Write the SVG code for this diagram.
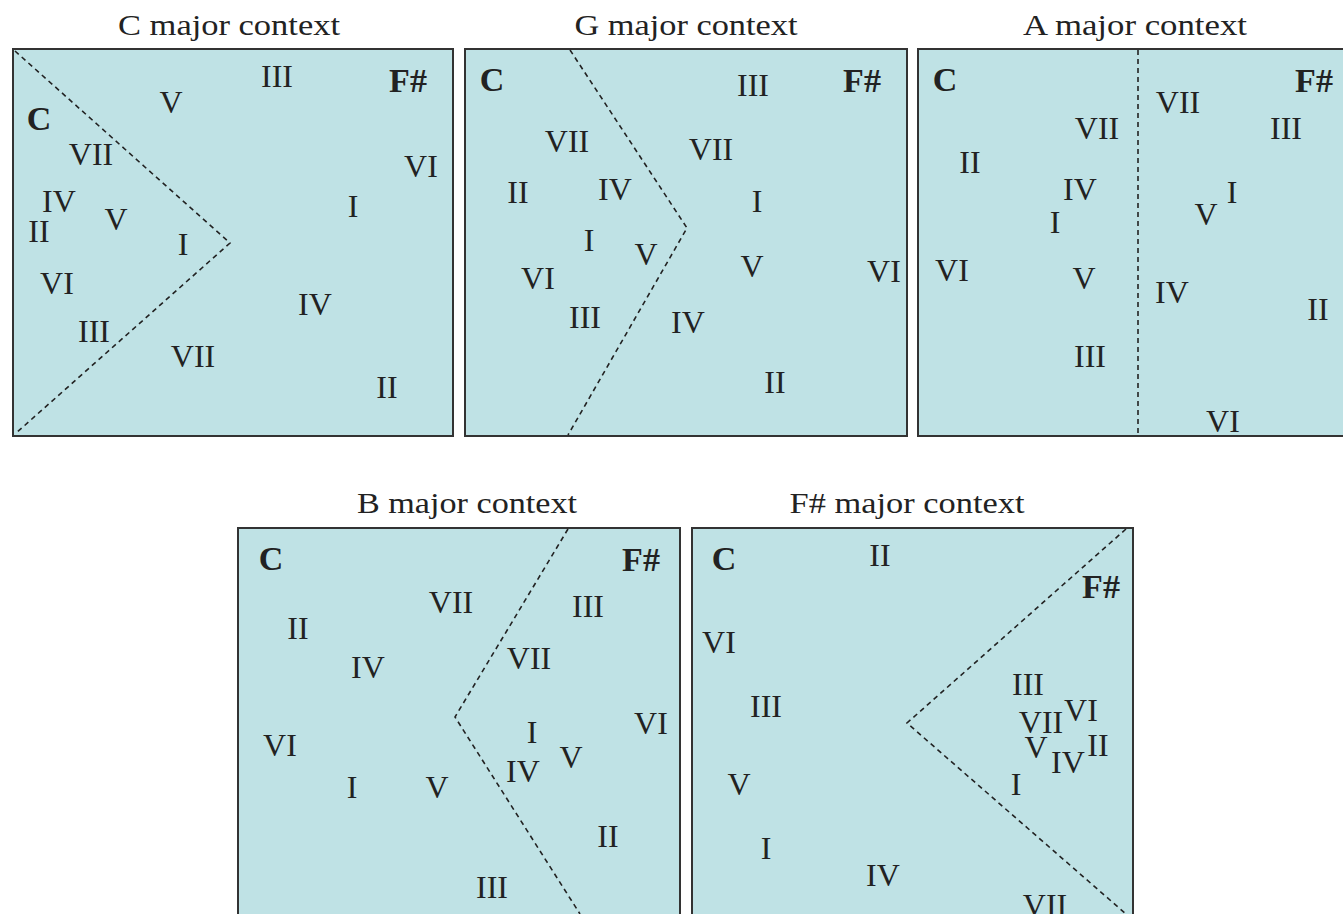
<svg xmlns="http://www.w3.org/2000/svg" width="1343" height="914" viewBox="0 0 1343 914">
<style>
.box{fill:#bfe2e5;stroke:#333;stroke-width:2}
.t{font-family:"Liberation Serif",serif;font-size:29px;fill:#222;text-anchor:middle}
.n{font-family:"Liberation Serif",serif;font-size:32px;fill:#222;text-anchor:middle}
.k{font-family:"Liberation Serif",serif;font-size:34px;font-weight:bold;fill:#222;text-anchor:middle}
.d{fill:none;stroke:#222;stroke-width:1.6;stroke-dasharray:5 4}
</style>
<rect width="1343" height="914" fill="#fff"/>
<g id="panel-c">
<text class="t" x="229" y="35" textLength="222" lengthAdjust="spacingAndGlyphs">C major context</text>
<rect class="box" x="13" y="49" width="440" height="387"/>
<text class="k" x="39" y="130">C</text>
<text class="k" x="408" y="92">F#</text>
<text class="n" x="277" y="87">III</text>
<text class="n" x="171" y="113">V</text>
<text class="n" x="91" y="165">VII</text>
<text class="n" x="421" y="177">VI</text>
<text class="n" x="59" y="212">IV</text>
<text class="n" x="116" y="230">V</text>
<text class="n" x="39" y="242">II</text>
<text class="n" x="353" y="217">I</text>
<text class="n" x="183" y="255">I</text>
<text class="n" x="57" y="294">VI</text>
<text class="n" x="315" y="315">IV</text>
<text class="n" x="94" y="342">III</text>
<text class="n" x="193" y="367">VII</text>
<text class="n" x="387" y="398">II</text>
</g>
<g id="panel-g">
<text class="t" x="686" y="35" textLength="223" lengthAdjust="spacingAndGlyphs">G major context</text>
<rect class="box" x="465" y="49" width="442" height="387"/>
<text class="k" x="492" y="91">C</text>
<text class="k" x="862" y="92">F#</text>
<text class="n" x="753" y="96">III</text>
<text class="n" x="567" y="152">VII</text>
<text class="n" x="711" y="160">VII</text>
<text class="n" x="518" y="203">II</text>
<text class="n" x="615" y="200">IV</text>
<text class="n" x="757" y="212">I</text>
<text class="n" x="589" y="251">I</text>
<text class="n" x="646" y="265">V</text>
<text class="n" x="752" y="277">V</text>
<text class="n" x="884" y="282">VI</text>
<text class="n" x="538" y="289">VI</text>
<text class="n" x="585" y="328">III</text>
<text class="n" x="688" y="333">IV</text>
<text class="n" x="775" y="393">II</text>
</g>
<g id="panel-a">
<text class="t" x="1135" y="35" textLength="224" lengthAdjust="spacingAndGlyphs">A major context</text>
<rect class="box" x="918" y="49" width="440" height="387"/>
<text class="k" x="945" y="91">C</text>
<text class="k" x="1314" y="92">F#</text>
<text class="n" x="1178" y="113">VII</text>
<text class="n" x="1097" y="139">VII</text>
<text class="n" x="1286" y="139">III</text>
<text class="n" x="970" y="173">II</text>
<text class="n" x="1080" y="200">IV</text>
<text class="n" x="1055" y="233">I</text>
<text class="n" x="1232" y="203">I</text>
<text class="n" x="1206" y="225">V</text>
<text class="n" x="952" y="281">VI</text>
<text class="n" x="1084" y="289">V</text>
<text class="n" x="1172" y="303">IV</text>
<text class="n" x="1318" y="320">II</text>
<text class="n" x="1090" y="367">III</text>
<text class="n" x="1223" y="432">VI</text>
</g>
<g id="panel-b">
<text class="t" x="467" y="513" textLength="220" lengthAdjust="spacingAndGlyphs">B major context</text>
<rect class="box" x="238" y="528" width="442" height="400"/>
<text class="k" x="271" y="570">C</text>
<text class="k" x="641" y="571">F#</text>
<text class="n" x="451" y="613">VII</text>
<text class="n" x="588" y="617">III</text>
<text class="n" x="298" y="639">II</text>
<text class="n" x="529" y="669">VII</text>
<text class="n" x="368" y="678">IV</text>
<text class="n" x="651" y="734">VI</text>
<text class="n" x="280" y="756">VI</text>
<text class="n" x="532" y="743">I</text>
<text class="n" x="571" y="768">V</text>
<text class="n" x="523" y="782">IV</text>
<text class="n" x="352" y="798">I</text>
<text class="n" x="437" y="798">V</text>
<text class="n" x="608" y="847">II</text>
<text class="n" x="492" y="898">III</text>
</g>
<g id="panel-fs">
<text class="t" x="907" y="513" textLength="235" lengthAdjust="spacingAndGlyphs">F# major context</text>
<rect class="box" x="692" y="528" width="441" height="400"/>
<text class="k" x="724" y="570">C</text>
<text class="k" x="1101" y="598">F#</text>
<text class="n" x="880" y="566">II</text>
<text class="n" x="719" y="653">VI</text>
<text class="n" x="1028" y="695">III</text>
<text class="n" x="766" y="717">III</text>
<text class="n" x="1041" y="733">VII</text>
<text class="n" x="1081" y="721">VI</text>
<text class="n" x="1036" y="758">V</text>
<text class="n" x="1068" y="773">IV</text>
<text class="n" x="1098" y="756">II</text>
<text class="n" x="739" y="795">V</text>
<text class="n" x="1016" y="795">I</text>
<text class="n" x="766" y="859">I</text>
<text class="n" x="883" y="886">IV</text>
<text class="n" x="1045" y="916">VII</text>
</g>
<g id="connectors">
<polyline class="d" points="15,51 230,243 15,434"/>
<polyline class="d" points="570,50 687,228 568,435"/>
<line class="d" x1="1138" y1="50" x2="1138" y2="436"/>
<polyline class="d" points="568,529 455,717 580,914"/>
<polyline class="d" points="1126,529 907,723 1126,914"/>
</g>
</svg>
